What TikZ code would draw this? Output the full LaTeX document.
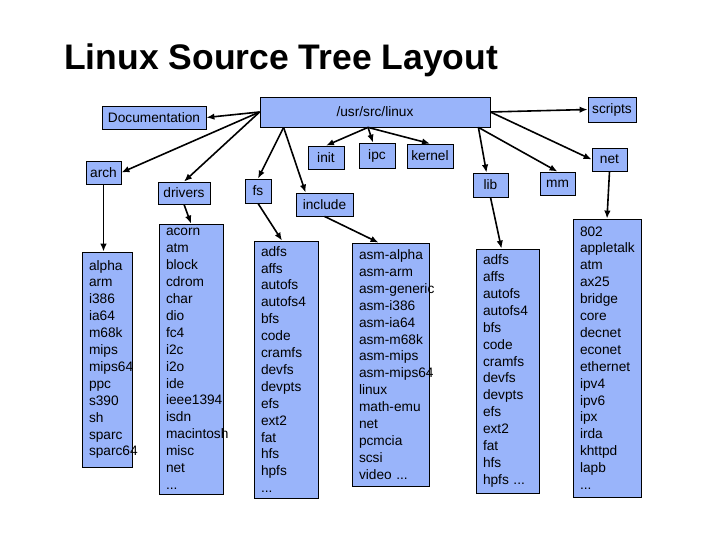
\documentclass[tikz,border=0pt]{standalone}
\usepackage{fontspec}
\setmainfont{Liberation Sans}
\usepackage{tikz}
\usetikzlibrary{arrows.meta}
\definecolor{dirblue}{RGB}{153,180,250}

\begin{document}
\begin{tikzpicture}[x=1pt,y=-1pt,
    dir/.style={draw,rectangle,fill=dirblue,line width=0.8pt,inner sep=0pt,font=\fontsize{13.7}{16.9}\selectfont},
    dirlist/.style={dir,align=left,inner xsep=7pt,
        execute at begin node={\hyphenpenalty=10000\exhyphenpenalty=10000}},
    link/.style={-{Latex[length=8pt,width=6.5pt]},line width=1.6pt}]
    \useasboundingbox (0,0) rectangle (720,540);

    % Title
    \node[anchor=base west,inner sep=0pt,font=\fontsize{35.5}{42}\selectfont\bfseries] (title) at (64,70) {Linux Source Tree Layout};

    % Top level
    \node[dir,minimum width=230,minimum height=30] (linux) at (375,112) {/usr/src/linux};
    \node[dir,minimum width=104,minimum height=23] (doc) at (154,117.5) {Documentation};
    \node[dir,minimum width=48,minimum height=25] (scripts) at (612,109.5) {scripts};

    % Sub directories
    \node[dir,minimum width=35,minimum height=23] (arch) at (103.5,172.5) {arch};
    \node[dir,minimum width=52,minimum height=22] (drivers) at (184,193) {drivers};
    \node[dir,minimum width=26,minimum height=24] (fs) at (258,191) {fs};
    \node[dir,minimum width=57,minimum height=23] (include) at (324.5,204.5) {include};
    \node[dir,minimum width=36,minimum height=23] (init) at (326,157.5) {init};
    \node[dir,minimum width=36,minimum height=25] (ipc) at (377,155.5) {ipc};
    \node[dir,minimum width=46,minimum height=24] (kernel) at (430,156) {kernel};
    \node[dir,minimum width=35,minimum height=24] (lib) at (490.5,185) {lib};
    \node[dir,minimum width=35,minimum height=23] (mm) at (557.5,183.5) {mm};
    \node[dir,minimum width=35,minimum height=23] (net) at (609.5,159.5) {net};

    % Contents
    \node[dirlist,text width=36pt,minimum height=215] (archlist) at (107,359.5)
        {alpha\\arm\\i386\\ia64\\m68k\\mips\\mips64\\ppc\\s390\\sh\\sparc\\sparc64};
    \node[dirlist,text width=50pt,minimum height=270] (driverslist) at (191,359)
        {acorn\\atm\\block\\cdrom\\char\\dio\\fc4\\i2c\\i2o\\ide\\ieee1394\\isdn\\macintosh\\misc\\net\\...};
    \node[dirlist,text width=50pt,minimum height=257] (fslist) at (286,369.5)
        {adfs\\affs\\autofs\\autofs4\\bfs\\code\\cramfs\\devfs\\devpts\\efs\\ext2\\fat\\hfs\\hpfs\\...};
    \node[dirlist,text width=63pt,minimum height=243] (includelist) at (390.5,364.5)
        {asm-alpha\\asm-arm\\asm-generic\\asm-i386\\asm-ia64\\asm-m68k\\asm-mips\\asm-mips64\\linux\\math-emu\\net\\pcmcia\\scsi\\video ...};
    \node[dirlist,text width=49pt,minimum height=244] (liblist) at (507.5,371)
        {adfs\\affs\\autofs\\autofs4\\bfs\\code\\cramfs\\devfs\\devpts\\efs\\ext2\\fat\\hfs\\hpfs ...};
    \node[dirlist,text width=54pt,minimum height=278] (netlist) at (607,358)
        {802\\appletalk\\atm\\ax25\\bridge\\core\\decnet\\econet\\ethernet\\ipv4\\ipv6\\ipx\\irda\\khttpd\\lapb\\...};

    % Arrows from /usr/src/linux
    \draw[link] (linux.west) -- (doc.east);
    \draw[link] (linux.west) -- (arch.east);
    \draw[link] (linux.west) -- (drivers.north);
    \draw[link] ([xshift=24pt]linux.south west) -- (fs.north);
    \draw[link] ([xshift=24pt]linux.south west) -- ([xshift=10pt]include.north west);
    \draw[link] ([xshift=-7pt]linux.south) -- (init.north);
    \draw[link] ([xshift=-7pt]linux.south) -- ([xshift=-4pt]ipc.north);
    \draw[link] ([xshift=-7pt]linux.south) -- (kernel.north);
    \draw[link] ([xshift=-12pt]linux.south east) -- ([xshift=-4pt]lib.north);
    \draw[link] ([xshift=-12pt]linux.south east) -- (mm.north);
    \draw[link] (linux.east) -- (scripts.west);
    \draw[link] (linux.east) -- (net.west);

    % Arrows to contents
    \draw[link] (arch.south) -- (arch.south |- archlist.north);
    \draw[link] (drivers.south) -- (driverslist.north);
    \draw[link] (fs.south) -- ([xshift=-4pt]fslist.north);
    \draw[link] (include.south) -- ([xshift=-12pt]includelist.north);
    \draw[link] (lib.south) -- ([xshift=-6pt]liblist.north);
    \draw[link] (net.south) -- (netlist.north);
\end{tikzpicture}
\end{document}
